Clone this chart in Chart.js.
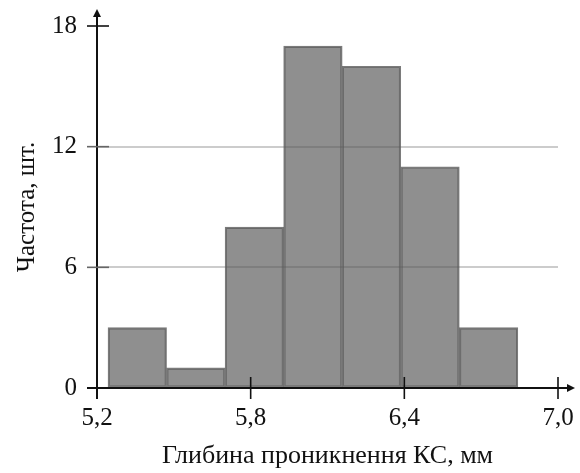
<!DOCTYPE html>
<html>
<head>
<meta charset="utf-8">
<script src="https://cdn.jsdelivr.net/npm/chart.js@4/dist/chart.umd.min.js"></script>
<style>
  html, body { margin: 0; padding: 0; background: #ffffff; }
  #wrap { width: 580px; height: 473px; }
</style>
</head>
<body>
<div id="wrap"><canvas id="c" width="580" height="473"></canvas></div>
<script>
// Bin centres (mm) and frequencies
const binCenters = [5.3573, 5.5859, 5.8145, 6.0431, 6.2717, 6.5003, 6.7289];
const counts = [3, 1, 8, 17, 16, 11, 3];
const xTicks = [5.2, 5.8, 6.4, 7.0];
const yTicks = [0, 6, 12, 18];
const xTitle = 'Глибина проникнення КС, мм';
const yTitle = 'Частота, шт.';

const FONT = 'Liberation Serif, Times New Roman, serif';

const axesPlugin = {
  id: 'axesPlugin',
  afterDatasetsDraw(chart) {
    const ctx = chart.ctx;
    const xs = chart.scales.x, ys = chart.scales.y;
    const x0 = xs.getPixelForValue(xTicks[0]);
    const y0 = ys.getPixelForValue(0);
    const xEnd = chart.width - 5;
    const yTop = chart.chartArea.top - 17;
    ctx.save();
    ctx.strokeStyle = '#111';
    ctx.fillStyle = '#111';
    ctx.lineWidth = 2;
    // y axis
    ctx.beginPath();
    ctx.moveTo(x0, y0 + 11);
    ctx.lineTo(x0, yTop + 6);
    ctx.stroke();
    // x axis
    ctx.beginPath();
    ctx.moveTo(x0 - 10, y0);
    ctx.lineTo(xEnd - 6, y0);
    ctx.stroke();
    // arrows
    ctx.beginPath();
    ctx.moveTo(x0, yTop);
    ctx.lineTo(x0 - 4, yTop + 8);
    ctx.lineTo(x0 + 4, yTop + 8);
    ctx.closePath();
    ctx.fill();
    ctx.beginPath();
    ctx.moveTo(xEnd, y0);
    ctx.lineTo(xEnd - 8, y0 - 4);
    ctx.lineTo(xEnd - 8, y0 + 4);
    ctx.closePath();
    ctx.fill();
    // y ticks
    ctx.lineWidth = 1.6;
    yTicks.forEach(v => {
      if (v === 0) return;
      const y = ys.getPixelForValue(v);
      ctx.strokeStyle = v === yTicks[yTicks.length - 1] ? '#111' : '#666';
      ctx.beginPath();
      ctx.moveTo(x0 - 10, y);
      ctx.lineTo(x0 + 12, y);
      ctx.stroke();
    });
    // x ticks
    ctx.strokeStyle = '#111';
    xTicks.forEach((v, i) => {
      if (i === 0) return;
      const x = xs.getPixelForValue(v);
      ctx.beginPath();
      ctx.moveTo(x, y0 - 11);
      ctx.lineTo(x, y0 + 11);
      ctx.stroke();
    });
    ctx.restore();
  }
};

new Chart(document.getElementById('c'), {
  type: 'bar',
  data: {
    datasets: [{
      data: binCenters.map((x, i) => ({ x: x, y: counts[i] })),
      backgroundColor: 'rgba(85,85,85,0.66)',
      borderColor: 'rgba(90,90,90,0.8)',
      borderWidth: 1.5,
      borderSkipped: false,
      barPercentage: 1.0,
      categoryPercentage: 1.0
    }]
  },
  options: {
    responsive: false,
    animation: false,
    devicePixelRatio: 1,
    layout: { padding: { left: 12, right: 22, top: 26, bottom: 0 } },
    plugins: { legend: { display: false }, tooltip: { enabled: false } },
    scales: {
      x: {
        type: 'linear',
        min: xTicks[0],
        max: xTicks[xTicks.length - 1],
        offset: false,
        afterBuildTicks: s => { s.ticks = xTicks.map(v => ({ value: v })); },
        afterFit: s => { s.height = 85; s.paddingLeft = 0; s.paddingRight = 0; },
        grid: { display: false, drawTicks: false },
        border: { display: false },
        ticks: {
          padding: 15,
          color: '#111',
          font: { family: FONT, size: 25 },
          maxRotation: 0,
          autoSkip: false,
          callback: v => Number(v).toFixed(1).replace('.', ',')
        },
        title: {
          display: true,
          text: xTitle,
          color: '#111',
          font: { family: FONT, size: 26 },
          padding: { top: 7, bottom: 1 }
        }
      },
      y: {
        min: yTicks[0],
        max: yTicks[yTicks.length - 1],
        afterBuildTicks: s => { s.ticks = yTicks.map(v => ({ value: v })); },
        afterFit: s => { s.width = 85; s.paddingTop = 0; s.paddingBottom = 0; },
        grid: {
          drawTicks: false,
          lineWidth: 2,
          color: c => (c.tick && (c.tick.value === 6 || c.tick.value === 12)) ? '#cccccc' : 'rgba(0,0,0,0)'
        },
        border: { display: false },
        ticks: {
          padding: 20,
          color: '#111',
          font: { family: FONT, size: 25 },
          callback: v => String(v)
        },
        title: {
          display: true,
          text: yTitle,
          color: '#111',
          font: { family: FONT, size: 25 },
          padding: { top: 0, bottom: 10 }
        }
      }
    }
  },
  plugins: [axesPlugin]
});
</script>
</body>
</html>
